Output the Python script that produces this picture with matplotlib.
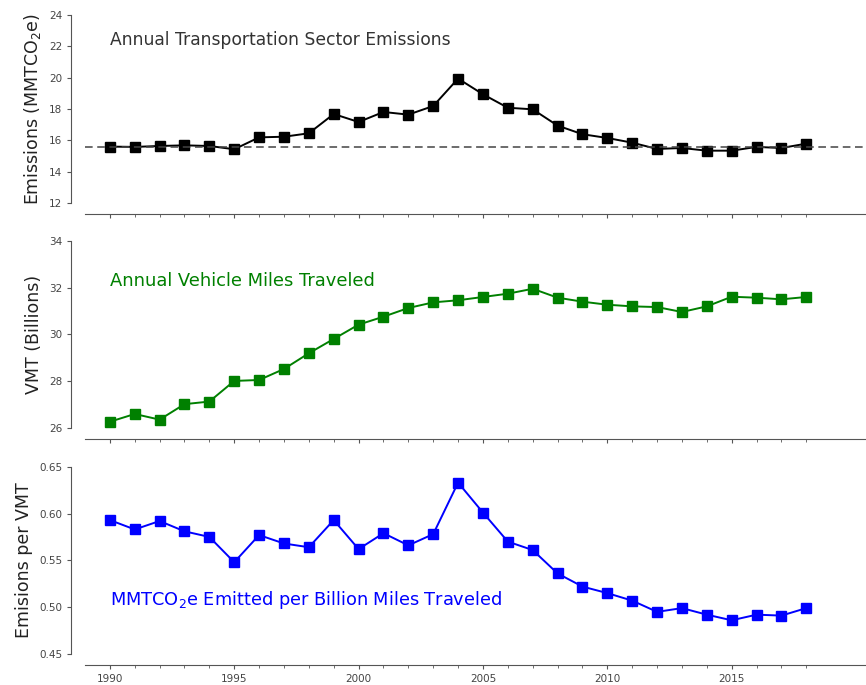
import numpy as np
import matplotlib
matplotlib.use("Agg")
import matplotlib.pyplot as plt
from matplotlib.ticker import MultipleLocator, FixedLocator

years = list(range(1990, 2019))
major_years = [1990, 1995, 2000, 2005, 2010, 2015]

emissions = [15.60, 15.58, 15.64, 15.68, 15.64, 15.43, 16.19, 16.23, 16.45, 17.68,
             17.17, 17.81, 17.64, 18.19, 19.94, 18.94, 18.08, 17.98, 16.94, 16.39,
             16.15, 15.85, 15.45, 15.51, 15.34, 15.34, 15.58, 15.51, 15.79]

vmt = [26.28, 26.61, 26.37, 27.03, 27.14, 28.02, 28.06, 28.53, 29.20, 29.81,
       30.42, 30.76, 31.13, 31.37, 31.46, 31.60, 31.74, 31.95, 31.57, 31.40,
       31.27, 31.20, 31.17, 30.96, 31.20, 31.61, 31.57, 31.50, 31.60]

per_vmt = [0.593, 0.583, 0.592, 0.581, 0.575, 0.548, 0.577, 0.568, 0.564, 0.593,
           0.562, 0.579, 0.566, 0.578, 0.633, 0.601, 0.570, 0.561, 0.536, 0.522,
           0.515, 0.507, 0.495, 0.499, 0.492, 0.486, 0.492, 0.491, 0.499]

W, H = 866, 685
fig = plt.figure(figsize=(W / 100, H / 100), dpi=100)

left = 85 / W
width = 1 - left
panels = [
    (203, 188),
    (428.3, 187.6),
    (654, 187.3),
]
axes = [fig.add_axes([left, 1 - b / H, width, h / H]) for b, h in panels]

series = [
    (emissions, 'black', (12, 24), 2, 'Emissions (MMTCO$_2$e)',
     'Annual Transportation Sector Emissions', '#333333', 22.4, 12.35),
    (vmt, 'green', (26, 34), 2, 'VMT (Billions)',
     'Annual Vehicle Miles Traveled', 'green', 32.3, 12.9),
    (per_vmt, 'blue', (0.45, 0.65), 0.05, 'Emisions per VMT',
     'MMTCO$_2$e Emitted per Billion Miles Traveled', 'blue', 0.508, 12.8),
]

for ax, (vals, col, ylim, step, ylab, label, tcol, ty, tsize) in zip(axes, series):
    ax.plot(years, vals, color=col, marker='s', markersize=7, linewidth=1.4)
    ax.set_xlim(1989, 2020.4)
    ax.set_ylim(*ylim)
    ax.yaxis.set_major_locator(MultipleLocator(step))
    ax.xaxis.set_major_locator(FixedLocator(major_years))
    ax.xaxis.set_minor_locator(FixedLocator(years))
    ax.set_ylabel(ylab, fontsize=12.5, color='#222222', labelpad=4)
    ax.text(1990, ty, label, color=tcol, fontsize=tsize, va='center', ha='left')
    for s in ['top', 'right']:
        ax.spines[s].set_visible(False)
    ax.spines['left'].set_position(('outward', 10))
    ax.spines['bottom'].set_position(('outward', 8))
    for s in ['left', 'bottom']:
        ax.spines[s].set_color('#555555')
    ax.tick_params(axis='both', which='major', labelsize=7.5, colors='#555555',
                   labelcolor='#444444', length=3)
    ax.tick_params(axis='x', which='minor', length=2, colors='#555555')

axes[0].axhline(emissions[0], color='#444444', linestyle='--', linewidth=1.1,
                dashes=(5, 3))
axes[0].tick_params(axis='x', labelbottom=False)
axes[1].tick_params(axis='x', labelbottom=False)
axes[0].yaxis.set_major_formatter(plt.FuncFormatter(lambda v, p: f'{v:.0f}'))
axes[1].yaxis.set_major_formatter(plt.FuncFormatter(lambda v, p: f'{v:.0f}'))
axes[2].yaxis.set_major_formatter(plt.FuncFormatter(lambda v, p: f'{v:.2f}'))

fig.savefig('out.png', dpi=100)
